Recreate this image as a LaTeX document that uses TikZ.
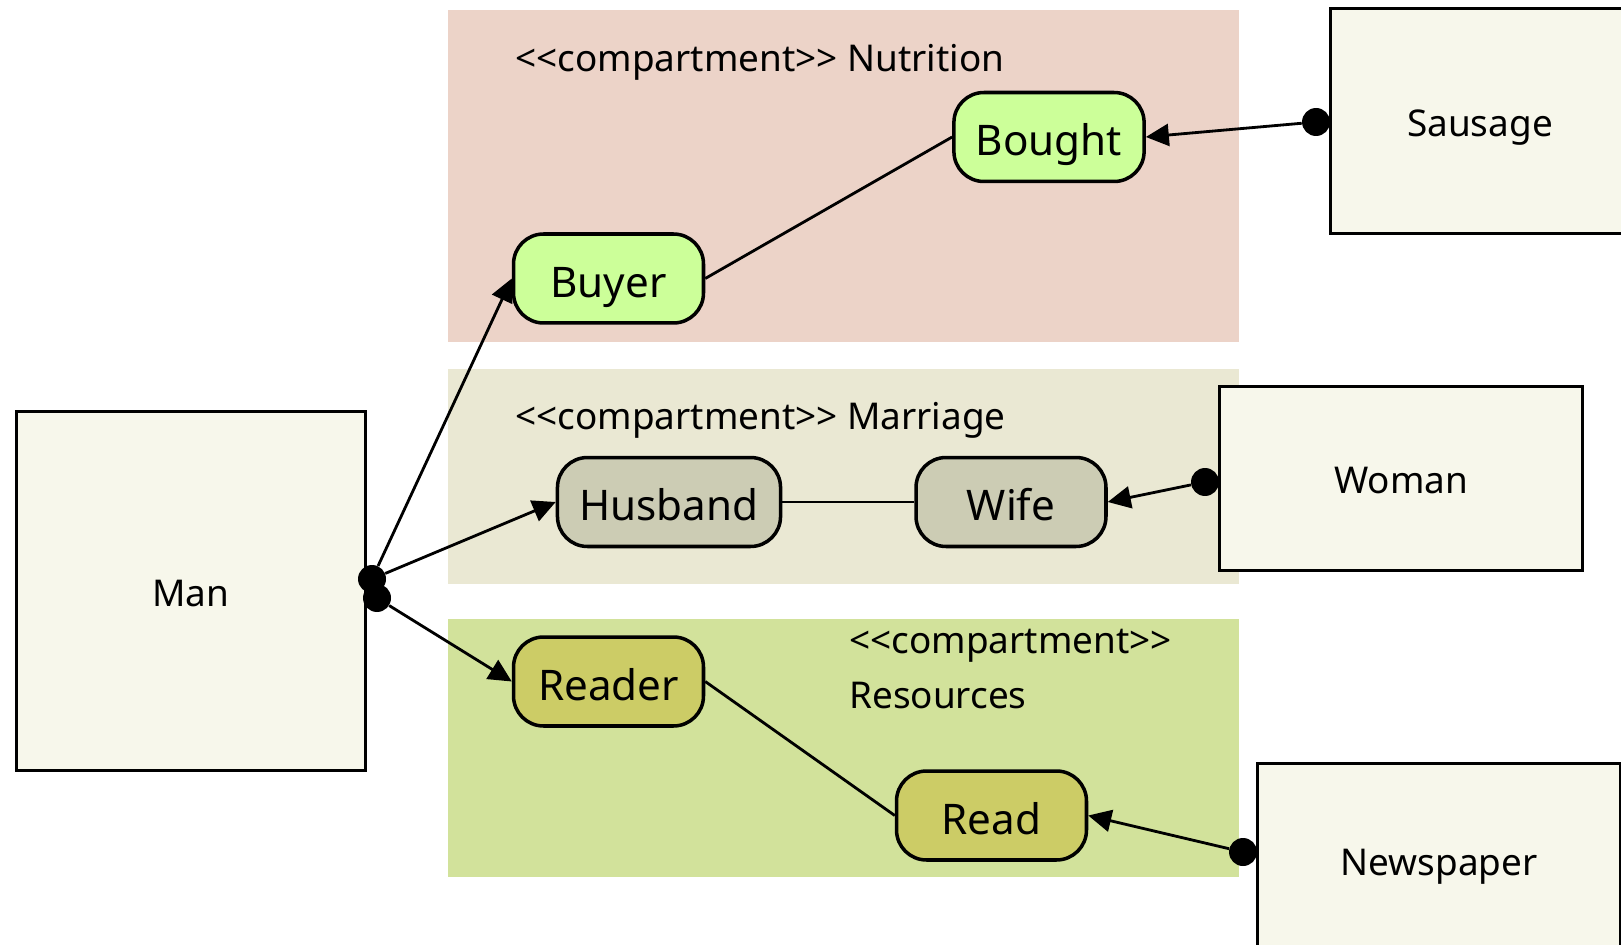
\documentclass[tikz,border=0pt]{standalone}
\usepackage{fontspec}
\newfontfamily\diagfont{Noto Sans}
\usetikzlibrary{shapes, calc, arrows.meta}
\usepackage{xcolor}

\definecolor{nutritionbg}{HTML}{ECD3C8}
\definecolor{marriagebg}{HTML}{EAE8D3}
\definecolor{resourcesbg}{HTML}{D2E29B}
\definecolor{classfill}{HTML}{F7F7EB}
\definecolor{nutritionrole}{HTML}{CCFF99}
\definecolor{marriagerole}{HTML}{CCCCB4}
\definecolor{resourcesrole}{HTML}{CCCC66}

\tikzset{
    classbox/.style={draw, line width=1.7pt, fill=classfill,
        text height=17.6pt, text depth=0pt,
        font=\diagfont\fontsize{21}{25}\selectfont},
    role/.style={draw, line width=2pt, rounded corners=0.6cm,
        minimum width=3.8cm, minimum height=1.78cm, inner xsep=0.44cm,
        text height=21.6pt, text depth=0pt,
        font=\diagfont\fontsize{24}{28}\selectfont},
    comptext/.style={anchor=west, inner sep=0pt, align=left,
        font=\diagfont\fontsize{21}{31}\selectfont},
    dot/.style={circle, fill, inner sep=0pt, minimum size=0.56cm},
    link/.style={line width=1.6pt},
    fact/.style={line width=1.6pt, -{Triangle[length=0.46cm, width=0.44cm]}},
}

\begin{document}
\begin{tikzpicture}[x=0.02cm, y=-0.02cm]
    \useasboundingbox (0, 0) rectangle (1621, 945);
    \clip (0, 0) rectangle (1621, 945);

    \fill[nutritionbg] (448, 10) rectangle (1239, 342);
    \fill[marriagebg] (448, 369) rectangle (1239, 584);
    \fill[resourcesbg] (448, 619) rectangle (1239, 877);

    \node[comptext] (nutritiontxt) at (515, 62) {<<compartment>> Nutrition};
    \node[comptext] (marriagetxt) at (515, 420) {<<compartment>> Marriage};
    \node[comptext] (resourcestxt) at (849, 669) {<<compartment>>\\Resources};

    \node[classbox, minimum width=6.98cm, minimum height=7.2cm] (man) at (191, 591) {Man};
    \node[classbox, minimum width=6cm, minimum height=4.52cm] (sausage) at (1480, 121) {Sausage};
    \node[classbox, minimum width=7.28cm, minimum height=3.7cm] (woman) at (1401, 478.5) {Woman};
    \node[classbox, minimum width=7.28cm, minimum height=3.88cm] (newspaper) at (1439, 860) {Newspaper};

    \node[role, fill=nutritionrole] (buyer) at (608.5, 278.5) {Buyer};
    \node[role, fill=nutritionrole] (bought) at (1049, 137) {Bought};
    \node[role, fill=marriagerole] (husband) at (669, 502) {Husband};
    \node[role, fill=marriagerole] (wife) at (1011, 502) {Wife};
    \node[role, fill=resourcesrole] (reader) at (608.5, 681.5) {Reader};
    \node[role, fill=resourcesrole] (read) at (991.5, 815.5) {Read};

    \node[dot] (mandot) at (372, 579) {};
    \node[dot] (mandottwo) at (377, 598) {};
    \node[dot] (sausagedot) at (1316, 122) {};
    \node[dot] (womandot) at (1205, 482) {};
    \node[dot] (newspaperdot) at (1243, 852) {};

    \draw[link] (buyer.east) -- (bought.west);
    \draw[link] (husband.east) -- (wife.west);
    \draw[link] (reader.east) -- (read.west);

    \draw[fact] (mandot) -- (buyer.west);
    \draw[fact] (mandot) -- (husband.west);
    \draw[fact] (mandottwo) -- (reader.west);
    \draw[fact] (sausagedot) -- (bought.east);
    \draw[fact] (womandot) -- (wife.east);
    \draw[fact] (newspaperdot) -- (read.east);
\end{tikzpicture}
\end{document}
